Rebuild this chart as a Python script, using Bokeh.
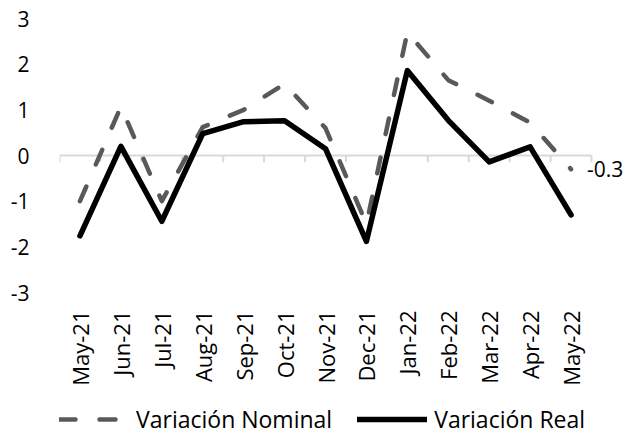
from bokeh.plotting import figure
from bokeh.layouts import column
from bokeh.models import FixedTicker, Legend, LegendItem, ColumnDataSource
from bokeh.core.properties import value
from bokeh.embed import file_html
from bokeh.resources import INLINE
import math

months = ["May-21", "Jun-21", "Jul-21", "Aug-21", "Sep-21", "Oct-21", "Nov-21",
          "Dec-21", "Jan-22", "Feb-22", "Mar-22", "Apr-22", "May-22"]
nominal = [-1.0, 1.07, -1.0, 0.62, 1.0, 1.57, 0.6, -1.5, 2.7, 1.65, 1.2, 0.72, -0.3]
real = [-1.76, 0.2, -1.44, 0.48, 0.74, 0.76, 0.15, -1.88, 1.86, 0.77, -0.14, 0.19, -1.3]
y_ticks = [-3, -2, -1, 0, 1, 2, 3]
series_names = ["Variación Nominal", "Variación Real"]

FONT = "Open Sans"
idx = list(range(len(months)))
n = len(months)

NOM_STYLE = dict(line_color="#595959", line_width=4.5, line_dash="16 24",
                 line_cap="round", line_join="round")
REAL_STYLE = dict(line_color="#000000", line_width=5.5, line_cap="round", line_join="round")

W = 627
LEFT = 59
cat_px = 532 / n
p = figure(width=W, height=395, output_backend="svg", toolbar_location=None,
           x_range=(-0.5, -0.5 + (W - LEFT) / cat_px), y_range=(-3, 3),
           min_border_left=LEFT, min_border_right=0, min_border_top=18, min_border_bottom=103)
p.outline_line_color = None
p.grid.grid_line_color = None

p.xaxis.ticker = FixedTicker(ticks=idx)
p.xaxis.major_label_overrides = {i: m for i, m in zip(idx, months)}
p.xaxis.major_label_orientation = math.pi / 2
p.xaxis.axis_line_color = None
p.xaxis.major_tick_line_color = None
p.xaxis.minor_tick_line_color = None
p.xaxis.major_label_standoff = 12
p.xaxis.major_label_text_font = FONT
p.xaxis.major_label_text_font_size = "22px"
p.xaxis.major_label_text_color = "#000000"

p.yaxis.ticker = FixedTicker(ticks=y_ticks)
p.yaxis.major_label_overrides = {t: str(t) for t in y_ticks}
p.yaxis.axis_line_color = None
p.yaxis.major_tick_line_color = None
p.yaxis.minor_tick_line_color = None
p.yaxis.major_label_standoff = 24
p.yaxis.major_label_text_font = FONT
p.yaxis.major_label_text_font_size = "21px"
p.yaxis.major_label_text_color = "#000000"

# category axis line at zero with boundary ticks
bounds = [i - 0.5 for i in range(n + 1)]
p.segment(x0=[bounds[0]], y0=[0], x1=[bounds[-1]], y1=[0], line_color="#d9d9d9", line_width=2)
p.segment(x0=bounds, y0=[0] * len(bounds), x1=bounds, y1=[-0.15] * len(bounds),
          line_color="#d9d9d9", line_width=2)

src = ColumnDataSource(dict(x=idx, nominal=nominal, real=real))
p.line("x", "nominal", source=src, **NOM_STYLE)
p.line("x", "real", source=src, **REAL_STYLE)

p.text(x=[idx[-1]], y=[nominal[-1]], text=[f"{nominal[-1]:.1f}"], x_offset=16,
       text_align="left", text_baseline="middle", text_font=value(FONT),
       text_font_size="21px", text_color="#000000")

# legend strip below the chart (series drawn out of view, only their legend shows)
leg = figure(width=W, height=40, output_backend="svg", toolbar_location=None,
             x_range=(0, 1), y_range=(10, 11), min_border=0)
leg.axis.visible = False
leg.grid.visible = False
leg.outline_line_color = None
ln = leg.line("x", "nominal", source=src, **NOM_STYLE)
lr = leg.line("x", "real", source=src, **REAL_STYLE)
legend = Legend(items=[LegendItem(label=series_names[0], renderers=[ln]),
                       LegendItem(label=series_names[1], renderers=[lr])],
                orientation="horizontal", location=(0, 0),
                glyph_width=70, glyph_height=22, label_height=22, label_standoff=7, spacing=25,
                padding=0, margin=0, border_line_color=None, background_fill_alpha=0,
                label_text_font=FONT, label_text_font_size="23px", label_text_color="#000000")
leg.add_layout(legend, "center")

open("out.html", "w").write(file_html(column(p, leg, spacing=0), INLINE))
